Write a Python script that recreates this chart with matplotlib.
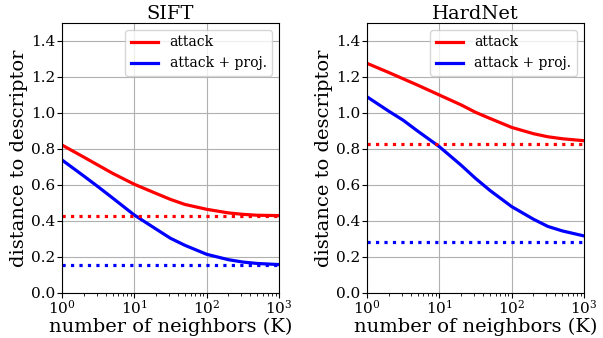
import matplotlib
matplotlib.use("Agg")
import matplotlib.pyplot as plt

plt.rcParams['font.family'] = 'DejaVu Serif'
plt.rcParams['mathtext.fontset'] = 'dejavuserif'

k = [1, 2, 3.16, 5, 10, 20, 31.6, 50, 100, 200, 316, 500, 1000]

sift_attack = [0.822, 0.755, 0.71, 0.665, 0.604, 0.553, 0.52, 0.492, 0.465, 0.445, 0.437, 0.432, 0.43]
sift_proj = [0.739, 0.65, 0.59, 0.528, 0.433, 0.355, 0.304, 0.265, 0.215, 0.185, 0.172, 0.164, 0.158]
sift_attack_ref = 0.428
sift_proj_ref = 0.155

hard_attack = [1.276, 1.225, 1.19, 1.155, 1.10, 1.045, 1.004, 0.97, 0.92, 0.885, 0.868, 0.857, 0.846]
hard_proj = [1.09, 1.01, 0.96, 0.90, 0.813, 0.71, 0.637, 0.57, 0.48, 0.41, 0.37, 0.345, 0.317]
hard_attack_ref = 0.828
hard_proj_ref = 0.283

titles = ["SIFT", "HardNet"]
panels = [(sift_attack, sift_proj, sift_attack_ref, sift_proj_ref),
          (hard_attack, hard_proj, hard_attack_ref, hard_proj_ref)]

fig = plt.figure(figsize=(6.03, 3.38), dpi=100)
lefts = [62 / 603, 367 / 603]
for i in range(2):
    ax = fig.add_axes([lefts[i], 45 / 338, 217 / 603, 270 / 338])
    att, proj, aref, pref = panels[i]
    ax.plot(k, att, color='red', lw=2.3, label='attack')
    ax.plot(k, proj, color='blue', lw=2.3, label='attack + proj.')
    ax.axhline(aref, color='red', lw=2.3, ls=':')
    ax.axhline(pref, color='blue', lw=2.3, ls=':')
    ax.set_xscale('log')
    ax.set_xlim(1, 1000)
    ax.set_ylim(0, 1.5)
    ax.set_yticks([0, 0.2, 0.4, 0.6, 0.8, 1.0, 1.2, 1.4])
    ax.grid(True, which='major')
    ax.tick_params(labelsize=11, pad=1.5)
    ax.tick_params(axis='x', pad=1)
    ax.set_title(titles[i], fontsize=14, pad=3)
    ax.set_xlabel("number of neighbors (K)", fontsize=14)
    ax.xaxis.set_label_coords(0.5, -0.09)
    ax.set_ylabel("distance to descriptor", fontsize=14, labelpad=2)
    ax.legend(loc='upper right', fontsize=10)

fig.savefig("out.png", dpi=100)
